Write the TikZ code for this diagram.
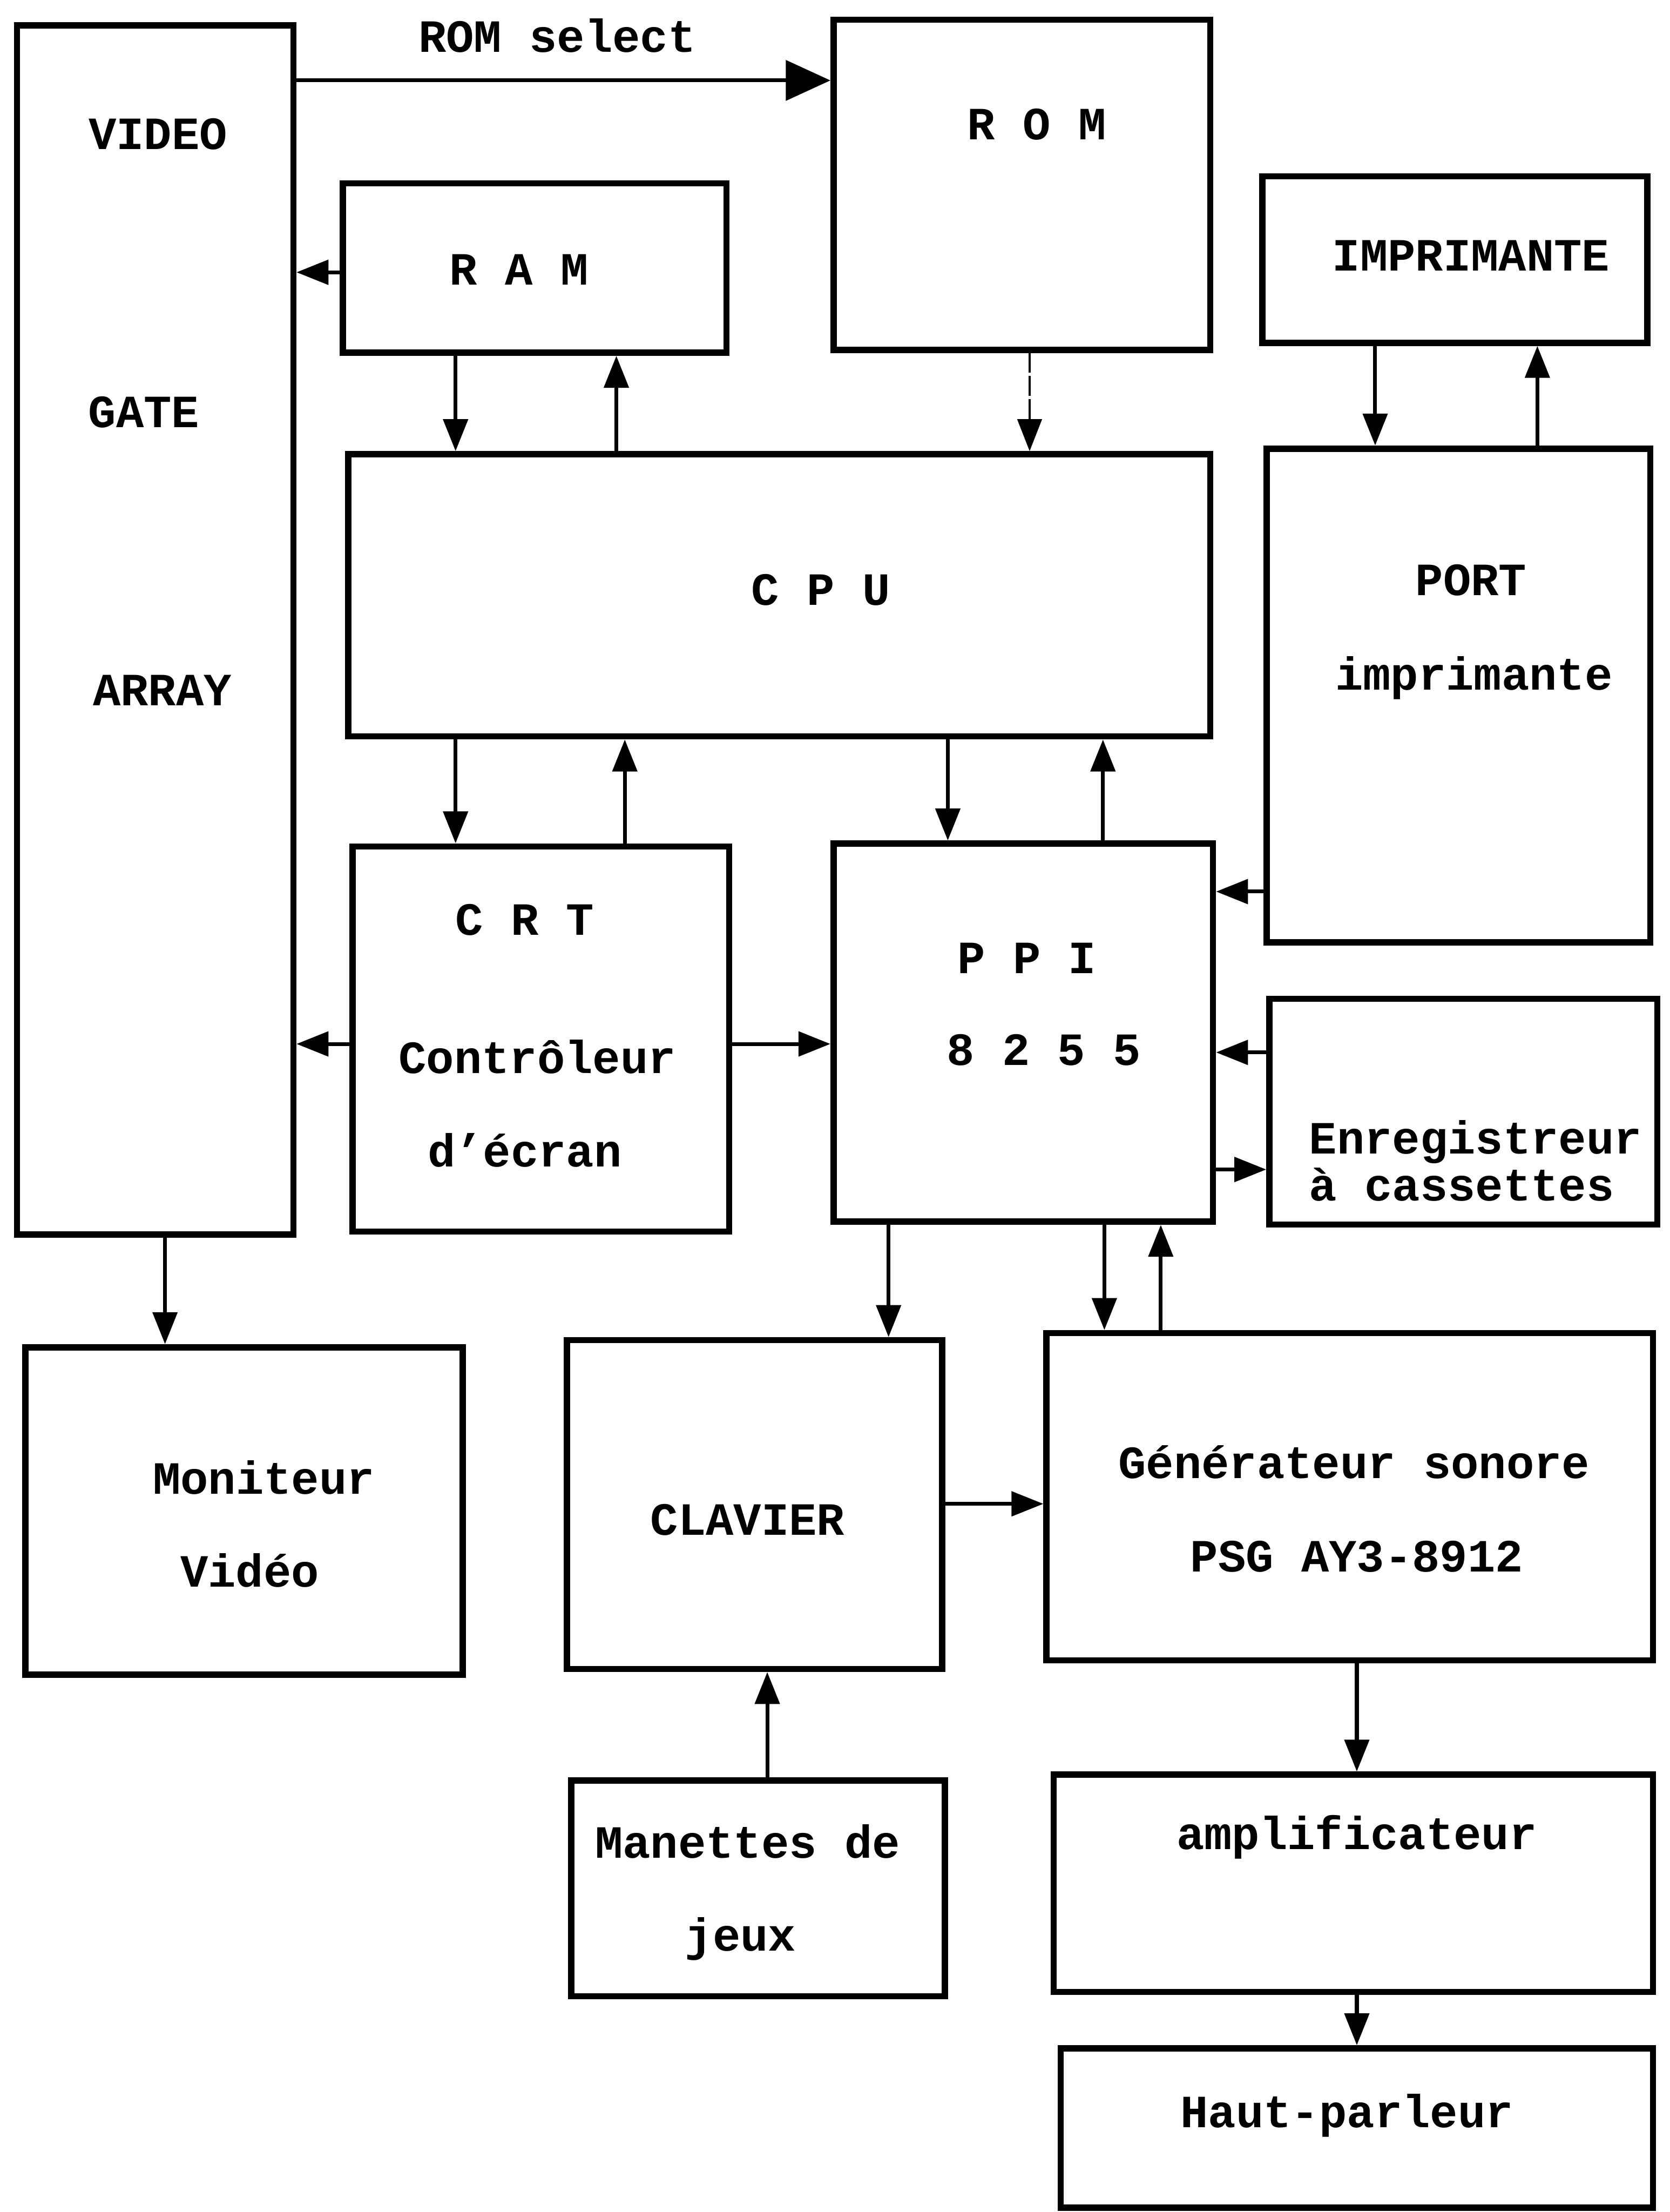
\documentclass[tikz,border=0pt]{standalone}
\usepackage{fontspec}
\setmainfont{Liberation Mono}
\usetikzlibrary{arrows.meta,fit}
\begin{document}
\begin{tikzpicture}[x=0.03005cm,y=-0.03005cm,
  box/.style={draw,line width=3.8pt,inner sep=0pt},
  lbl/.style={font=\fontsize{28}{32}\selectfont\bfseries,inner sep=0pt,anchor=base},
  arr/.style={line width=2.3pt,-{Triangle[length=0.68cm,width=0.52cm]}},
  bigarr/.style={line width=2.3pt,-{Triangle[length=0.95cm,width=0.85cm]}},
  thinarr/.style={line width=1.3pt,dash pattern=on 12pt off 2pt,-{Triangle[length=0.68cm,width=0.52cm]}}]
\useasboundingbox (0,0) rectangle (1184,1568);
% boxes
\node[box,fit={(12,18) (208,875)}] (vga) {};
\node[box,fit={(591,14) (858,248)}] (rom) {};
\node[box,fit={(243,130) (515,250)}] (ram) {};
\node[box,fit={(895,125) (1168,243)}] (impr) {};
\node[box,fit={(247,322) (858,522)}] (cpu) {};
\node[box,fit={(898,318) (1170,668)}] (port) {};
\node[box,fit={(250,600) (517,873)}] (crt) {};
\node[box,fit={(591,598) (860,866)}] (ppi) {};
\node[box,fit={(900,708) (1175,868)}] (enr) {};
\node[box,fit={(18,955) (328,1187)}] (mon) {};
\node[box,fit={(402,950) (668,1183)}] (clav) {};
\node[box,fit={(742,945) (1172,1177)}] (gen) {};
\node[box,fit={(405,1262) (670,1415)}] (man) {};
\node[box,fit={(747,1258) (1172,1412)}] (amp) {};
\node[box,fit={(752,1452) (1172,1565)}] (hp) {};
% texts
\node[lbl] (t1) at (112,106) {VIDEO};
\node[lbl] (t2) at (102,303) {GATE};
\node[lbl] (t3) at (115,500) {ARRAY};
\node[lbl] (t4) at (735,99) {R O M};
\node[lbl] (t5) at (368,202) {R A M};
\node[lbl] (t6) at (1043,192) {IMPRIMANTE};
\node[lbl] (t7) at (582,429) {C P U};
\node[lbl] (t8) at (1043,422) {PORT};
\node[lbl] (t9) at (1045,489) {imprimante};
\node[lbl] (t10) at (372,663) {C R T};
\node[lbl] (t11) at (381,761) {Contrôleur};
\node[lbl] (t12) at (372,827) {d'écran};
\node[lbl] (t13) at (728,690) {P P I};
\node[lbl] (t14) at (740,755) {8 2 5 5};
\node[lbl,anchor=base west] (t15) at (928,818) {Enregistreur};
\node[lbl,anchor=base west] (t16) at (928,851) {à cassettes};
\node[lbl] (t17) at (187,1059) {Moniteur};
\node[lbl] (t18) at (177,1125) {Vidéo};
\node[lbl] (t19) at (530,1088) {CLAVIER};
\node[lbl] (t20) at (960,1048) {Générateur sonore};
\node[lbl] (t21) at (962,1114) {PSG AY3-8912};
\node[lbl] (t22) at (530,1317) {Manettes de};
\node[lbl] (t23) at (525,1383) {jeux};
\node[lbl] (t24) at (962,1311) {amplificateur};
\node[lbl] (t25) at (955,1508) {Haut-parleur};
\node[lbl] (t26) at (395,37) {ROM select};
% connectors
\draw[bigarr] (vga.east |- 0,57) -- (rom.west |- 0,57);
\draw[arr] (ram.west |- 0,193) -- (vga.east |- 0,193);
\draw[arr] (323,0 |- ram.south) -- (323,0 |- cpu.north);
\draw[arr] (437,0 |- cpu.north) -- (437,0 |- ram.south);
\draw[thinarr] (730,0 |- rom.south) -- (730,0 |- cpu.north);
\draw[arr] (975,0 |- impr.south) -- (975,0 |- port.north);
\draw[arr] (1090,0 |- port.north) -- (1090,0 |- impr.south);
\draw[arr] (323,0 |- cpu.south) -- (323,0 |- crt.north);
\draw[arr] (443,0 |- crt.north) -- (443,0 |- cpu.south);
\draw[arr] (672,0 |- cpu.south) -- (672,0 |- ppi.north);
\draw[arr] (782,0 |- ppi.north) -- (782,0 |- cpu.south);
\draw[arr] (port.west |- 0,632) -- (ppi.east |- 0,632);
\draw[arr] (enr.west |- 0,746) -- (ppi.east |- 0,746);
\draw[arr] (ppi.east |- 0,829) -- (enr.west |- 0,829);
\draw[arr] (crt.west |- 0,740) -- (vga.east |- 0,740);
\draw[arr] (crt.east |- 0,740) -- (ppi.west |- 0,740);
\draw[arr] (117,0 |- vga.south) -- (117,0 |- mon.north);
\draw[arr] (630,0 |- ppi.south) -- (630,0 |- clav.north);
\draw[arr] (783,0 |- ppi.south) -- (783,0 |- gen.north);
\draw[arr] (823,0 |- gen.north) -- (823,0 |- ppi.south);
\draw[arr] (clav.east |- 0,1066) -- (gen.west |- 0,1066);
\draw[arr] (544,0 |- man.north) -- (544,0 |- clav.south);
\draw[arr] (962,0 |- gen.south) -- (962,0 |- amp.north);
\draw[arr] (962,0 |- amp.south) -- (962,0 |- hp.north);
\end{tikzpicture}
\end{document}
